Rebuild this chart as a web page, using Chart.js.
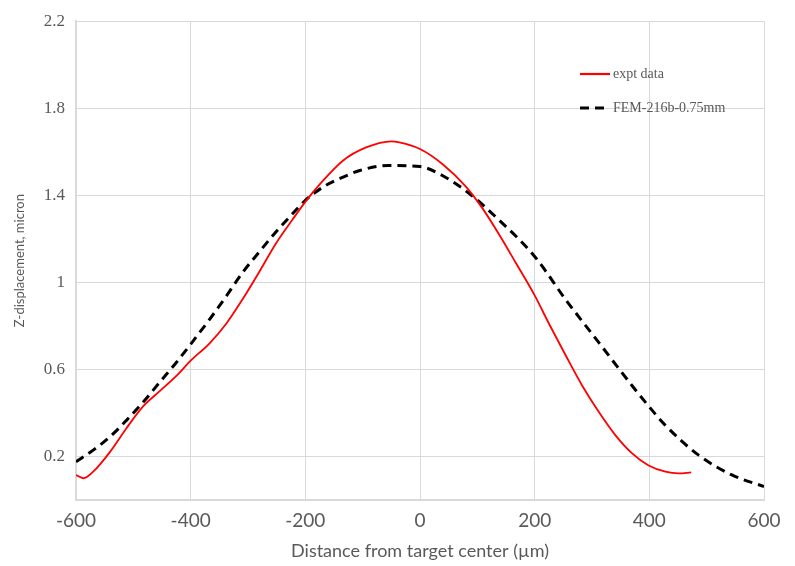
<!DOCTYPE html>
<html>
<head>
<meta charset="utf-8">
<script src="https://cdn.jsdelivr.net/npm/chart.js@4.4.0/dist/chart.umd.min.js"></script>
<style>
  html, body { margin: 0; padding: 0; background: #fff; }
  #wrap { width: 795px; height: 566px; }
</style>
</head>
<body>
<div id="wrap"><canvas id="profileChart"></canvas></div>
<script>
// Measured surface profile
const exptX = [-600, -587, -570, -541, -512, -483, -454, -425, -400, -367, -338, -310, -280, -251, -222, -200, -175, -134, -94, -50, -36, 0, 39, 80, 109, 138, 167, 200, 225, 254, 283, 312, 341, 370, 398, 428, 451, 473];
const exptY = [0.115, 0.10, 0.13, 0.22, 0.33, 0.43, 0.50, 0.57, 0.64, 0.72, 0.81, 0.92, 1.05, 1.18, 1.29, 1.37, 1.45, 1.56, 1.62, 1.648, 1.643, 1.613, 1.544, 1.44, 1.34, 1.22, 1.09, 0.94, 0.81, 0.665, 0.525, 0.404, 0.297, 0.214, 0.16, 0.13, 0.122, 0.127];

// FEM model result
const femX = [-600, -570, -541, -512, -483, -454, -425, -400, -367, -338, -310, -280, -251, -222, -200, -164, -134, -105, -56, 0, 39, 86, 138, 200, 254, 312, 370, 398, 428, 486, 544, 600];
const femY = [0.176, 0.229, 0.29, 0.366, 0.449, 0.541, 0.632, 0.716, 0.83, 0.936, 1.043, 1.141, 1.233, 1.316, 1.377, 1.446, 1.484, 1.514, 1.537, 1.532, 1.491, 1.408, 1.286, 1.119, 0.921, 0.723, 0.525, 0.434, 0.343, 0.206, 0.115, 0.062];

const xTicks = [-600, -400, -200, 0, 200, 400, 600];
const yTicks = [0.2, 0.6, 1, 1.4, 1.8, 2.2];

const seriesNames = ['expt data', 'FEM-216b-0.75mm'];

const toPoints = (xs, ys) => xs.map((x, i) => ({ x: x, y: ys[i] }));

// legend drawn inside the plot area, top right
const innerLegend = {
    id: 'innerLegend',
    afterDraw(chart) {
        const ctx = chart.ctx;
        const rows = [74, 108];
        ctx.save();
        chart.data.datasets.forEach((ds, i) => {
            const y = rows[i];
            ctx.beginPath();
            ctx.strokeStyle = ds.borderColor;
            ctx.lineWidth = i === 0 ? 2.2 : ds.borderWidth;
            ctx.setLineDash(ds.borderDash || []);
            ctx.moveTo(580, y);
            ctx.lineTo(610, y);
            ctx.stroke();
            ctx.setLineDash([]);
            ctx.fillStyle = '#595959';
            ctx.font = '14px "Liberation Serif"';
            ctx.textBaseline = 'middle';
            ctx.textAlign = 'left';
            ctx.fillText(ds.label, 613, y);
        });
        ctx.restore();
    }
};

new Chart(document.getElementById('profileChart'), {
    type: 'line',
    data: {
        datasets: [{
            label: seriesNames[0],
            data: toPoints(exptX, exptY),
            borderColor: '#ff0000',
            borderWidth: 1.8,
            pointRadius: 0,
            cubicInterpolationMode: 'monotone',
            fill: false
        }, {
            label: seriesNames[1],
            data: toPoints(femX, femY),
            borderColor: '#000000',
            borderWidth: 3,
            borderDash: [9, 6],
            pointRadius: 0,
            cubicInterpolationMode: 'monotone',
            fill: false
        }]
    },
    options: {
        responsive: true,
        maintainAspectRatio: false,
        animation: false,
        layout: { padding: { top: 16, right: 31, left: 0, bottom: 0 } },
        plugins: {
            legend: { display: false },
            tooltip: { enabled: false }
        },
        scales: {
            x: {
                type: 'linear',
                min: -600,
                max: 600,
                afterBuildTicks: axis => { axis.ticks = xTicks.map(v => ({ value: v })); },
                afterFit: axis => { axis.height = 66; },
                grid: { color: '#d9d9d9', lineWidth: 1, drawTicks: false },
                border: { color: '#d9d9d9', width: 2 },
                ticks: {
                    color: '#595959',
                    font: { family: 'Lato', size: 19 },
                    padding: 9,
                    maxRotation: 0
                },
                title: {
                    display: true,
                    text: 'Distance from target center (µm)',
                    color: '#595959',
                    font: { family: 'Lato', size: 18 },
                    padding: { top: 0, bottom: 4 }
                }
            },
            y: {
                min: 0,
                max: 2.2,
                afterBuildTicks: axis => { axis.ticks = yTicks.map(v => ({ value: v })); },
                afterFit: axis => { axis.width = 76; },
                grid: { color: '#d9d9d9', lineWidth: 1, drawTicks: false },
                border: { color: '#d9d9d9', width: 2 },
                ticks: {
                    color: '#595959',
                    font: { family: 'Liberation Serif', size: 17 },
                    padding: 11,
                    callback: v => String(v)
                },
                title: {
                    display: true,
                    text: 'Z-displacement, micron',
                    color: '#595959',
                    font: { family: 'Lato', size: 13 },
                    padding: { top: 12, bottom: 0 }
                }
            }
        }
    },
    plugins: [innerLegend]
});
</script>
</body>
</html>
